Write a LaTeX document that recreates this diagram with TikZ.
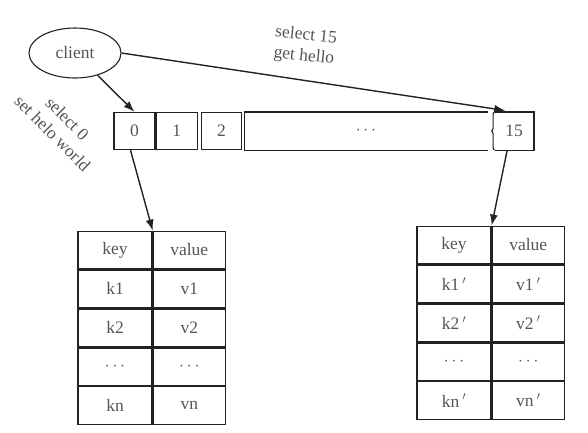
\documentclass[tikz,border=0pt]{standalone}
\usepackage{fontspec}
\setmainfont{Liberation Serif}
\usepackage{tikz}
\usetikzlibrary{arrows.meta, positioning, shapes.geometric, decorations.pathreplacing}
\definecolor{inkline}{HTML}{222222}
\definecolor{inktext}{HTML}{555555}

\begin{document}
\begin{tikzpicture}[x=1pt, y=-1pt,
        font=\fontsize{17.5}{21}\selectfont,
        client/.style={ellipse, draw=inkline, line width=1.1pt, text=inktext, minimum width=92pt, minimum height=50pt},
        cell/.style={rectangle, draw=inkline, line width=1.3pt, text=inktext, minimum height=37pt, inner sep=0pt},
        entry/.style={rectangle, draw=inkline, line width=1.3pt, text=inktext, minimum height=37.6pt, inner sep=0pt},
        note/.style={text=inktext, align=center, inner sep=0pt},
        line/.style={-{Latex[length=11pt,width=8pt]}, line width=1.4pt, draw=inkline}
    ]
    \useasboundingbox (0,0) rectangle (588,432);
    \node[client] (client) at (75,53) {client};
    % databases
    \node[cell, minimum width=41pt] (db0) at (134.5,131) {0};
    \node[cell, minimum width=41pt, right=0pt of db0] (db1) {1};
    \node[cell, minimum width=40pt, right=3pt of db1] (db2) {2};
    \node[cell, draw=none, minimum width=242pt, right=2pt of db2] (dbdots) {$\cdots$};
    \node[cell, draw=none, minimum width=38pt, right=7pt of dbdots] (db15) {15};
    \draw[inkline, line width=1.3pt] (dbdots.north east) -- (dbdots.north west) -- (dbdots.south west) -- (dbdots.south east);
    \draw[inkline, line width=1.3pt] (db15.north west) -- (db15.north east) -- (db15.south east) -- (db15.south west);
    \draw[inkline, line width=1.1pt, decorate, decoration={brace, amplitude=3pt}] (db15.south west) -- (db15.north west);
    % db 0
    \node[entry, minimum width=74pt] (lkey) at (115,250) {key};
    \node[entry, minimum width=72pt, right=0pt of lkey] (lval) {value};
    \node[entry, minimum width=74pt, below=0pt of lkey] (lk1) {k1};
    \node[entry, minimum width=72pt, right=0pt of lk1] (lv1) {v1};
    \node[entry, minimum width=74pt, below=0pt of lk1] (lk2) {k2};
    \node[entry, minimum width=72pt, right=0pt of lk2] (lv2) {v2};
    \node[entry, minimum width=74pt, below=0pt of lk2] (lkd) {$\cdots$};
    \node[entry, minimum width=72pt, right=0pt of lkd] (lvd) {$\cdots$};
    \node[entry, minimum width=74pt, below=0pt of lkd] (lkn) {kn};
    \node[entry, minimum width=72pt, right=0pt of lkn] (lvn) {vn};
    % db 15
    \node[entry, minimum width=74pt] (rkey) at (454,245) {key};
    \node[entry, minimum width=72pt, right=0pt of rkey] (rval) {value};
    \node[entry, minimum width=74pt, below=0pt of rkey] (rk1) {k1\,$'$};
    \node[entry, minimum width=72pt, right=0pt of rk1] (rv1) {v1\,$'$};
    \node[entry, minimum width=74pt, below=0pt of rk1] (rk2) {k2\,$'$};
    \node[entry, minimum width=72pt, right=0pt of rk2] (rv2) {v2\,$'$};
    \node[entry, minimum width=74pt, below=0pt of rk2] (rkd) {$\cdots$};
    \node[entry, minimum width=72pt, right=0pt of rkd] (rvd) {$\cdots$};
    \node[entry, minimum width=74pt, below=0pt of rkd] (rkn) {kn\,$'$};
    \node[entry, minimum width=72pt, right=0pt of rkn] (rvn) {vn\,$'$};
    % commands
    \node[note, rotate=-6] (cmd15) at (305,46) {select 15\\get hello};
    \node[note, rotate=-45] (cmd0) at (60,126) {select 0\\set helo world};
    \draw[line] (client) -- (db0.north);
    \draw[line, shorten >=9pt] (client.east) -- (db15.north);
    \draw[line] ([xshift=-4pt]db0.south) -- (lkey.north east);
    \draw[line] ([xshift=-7pt]db15.south) -- (rkey.north east);
\end{tikzpicture}
\end{document}
